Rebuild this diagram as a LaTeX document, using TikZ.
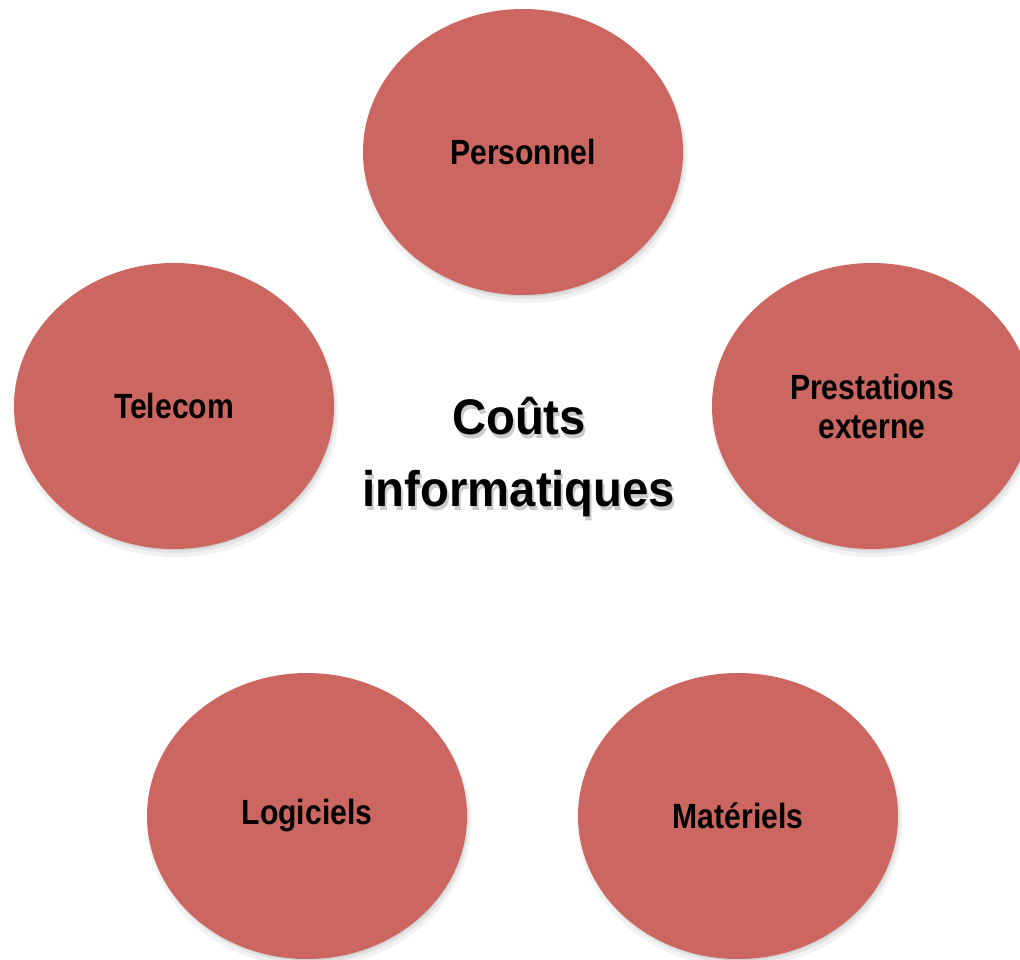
\documentclass[tikz,border=0pt]{standalone}
\usepackage{fontspec}
\setmainfont{Liberation Sans}
\newfontfamily\labelfont{Liberation Sans}[FakeStretch=0.86]
\newfontfamily\titlefont{Liberation Sans}[FakeStretch=0.945]
\usetikzlibrary{shapes.geometric,shadows}
\definecolor{bubble}{RGB}{204,102,96}
\tikzset{
  softshadow/.style={
    preaction={general shadow={fill=black,opacity=.05,shadow xshift=2pt,shadow yshift=-6pt,shadow scale=1.015}},
    preaction={general shadow={fill=black,opacity=.06,shadow xshift=2pt,shadow yshift=-4pt,shadow scale=1.0}},
    preaction={general shadow={fill=black,opacity=.08,shadow xshift=1pt,shadow yshift=-2pt,shadow scale=0.995}}},
  bubble/.style={ellipse,softshadow,fill=bubble,minimum width=320pt,minimum height=286pt,inner sep=0pt,
    font=\labelfont\fontsize{35}{39}\selectfont\bfseries,align=center,text=black},
  titletext/.style={font=\titlefont\fontsize{50}{72}\selectfont\bfseries,align=center},
}
\begin{document}
\begin{tikzpicture}[x=1pt,y=-1pt]
\useasboundingbox (0,0) rectangle (1020,959);
\clip (0,0) rectangle (1020,959);
\fill[white] (0,0) rectangle (1020,959);
\node[bubble] (pers) at (523,152) {Personnel};
\node[bubble] (tele) at (174,406) {Telecom};
\node[bubble] (prest) at (872,406) {Prestations\\externe};
\node[bubble] (logi) at (307,816) {Logiciels};
\node[bubble] (mat) at (738,816) {Matériels};
\node[titletext,text=black!45,opacity=.45] at (521,461) {Coûts\\informatiques};
\node[titletext] (title) at (519,457) {Coûts\\informatiques};
\end{tikzpicture}
\end{document}
